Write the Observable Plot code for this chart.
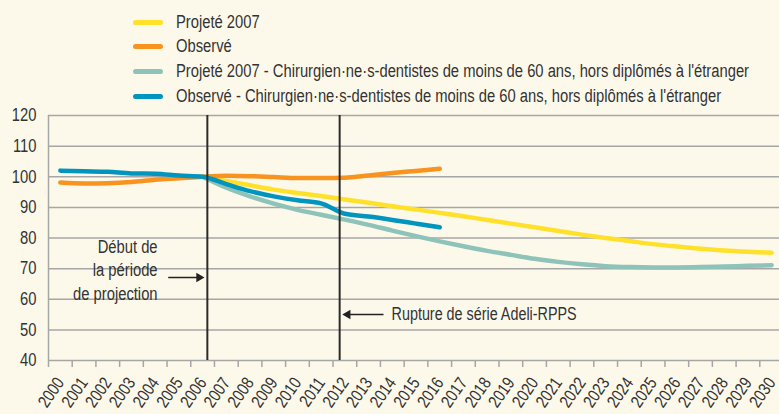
<!DOCTYPE html>
<html>
<head>
<meta charset="utf-8">
<script src="https://cdn.jsdelivr.net/npm/d3@7"></script>
<script src="https://cdn.jsdelivr.net/npm/@observablehq/plot@0.6"></script>
<style>
  html, body { margin: 0; padding: 0; background: #fdf9ea; overflow: hidden; width: 779px; height: 414px; }
  body { font-family: "Liberation Sans", Arial, sans-serif; color: #333; }
  #legend { position: relative; height: 105px; }
  .item { position: absolute; left: 133px; height: 20px; display: flex; align-items: center; font-size: 18px; white-space: nowrap; }
  .sw { width: 30px; height: 5px; border-radius: 2.5px; margin-right: 13px; flex: none; }
  .tx { display: inline-block; transform: scaleX(0.82); transform-origin: 0 50%; }
</style>
</head>
<body>
<div id="legend"></div>
<div id="chart"></div>
<script>
// ---- data ----
const yearsObs = [2000, 2001, 2002, 2003, 2004, 2005, 2006, 2007, 2008, 2009, 2010, 2011, 2012, 2013, 2014, 2015, 2016];
const yearsProj = [2006, 2007, 2008, 2009, 2010, 2011, 2012, 2013, 2014, 2015, 2016, 2017, 2018, 2019, 2020, 2021, 2022, 2023, 2024, 2025, 2026, 2027, 2028, 2029, 2030];

const projete2007 = [100, 98.6, 97.2, 95.8, 94.7, 93.7, 92.6, 91.5, 90.4, 89.3, 88.2, 87.1, 85.9, 84.7, 83.5, 82.3, 81.1, 80.0, 79.0, 78.0, 77.2, 76.5, 75.9, 75.5, 75.2];
const observe = [98.1, 97.8, 97.9, 98.3, 99.0, 99.5, 100, 100.3, 100.2, 99.9, 99.6, 99.6, 99.7, 100.4, 101.2, 101.9, 102.6];
const projete2007CD = [100, 96.4, 93.6, 91.2, 89.2, 87.6, 86.0, 84.3, 82.4, 80.6, 78.9, 77.3, 75.8, 74.5, 73.2, 72.2, 71.4, 70.8, 70.5, 70.4, 70.4, 70.5, 70.7, 70.9, 71.1];
const observeCD = [102.0, 101.8, 101.6, 101.1, 101.0, 100.4, 100, 97.6, 95.3, 93.6, 92.3, 91.3, 87.9, 87.0, 85.9, 84.7, 83.5];

const seriesNames = [
  "Projeté 2007",
  "Observé",
  "Projeté 2007 - Chirurgien·ne·s-dentistes de moins de 60 ans, hors diplômés à l'étranger",
  "Observé - Chirurgien·ne·s-dentistes de moins de 60 ans, hors diplômés à l'étranger"
];
const seriesColors = ["#ffe12b", "#f7931e", "#8ec3b9", "#0095bf"];

const yTicks = [40, 50, 60, 70, 80, 90, 100, 110, 120];
const xTickYears = [2000, 2001, 2002, 2003, 2004, 2005, 2006, 2007, 2008, 2009, 2010, 2011, 2012, 2013, 2014, 2015, 2016, 2017, 2018, 2019, 2020, 2021, 2022, 2023, 2024, 2025, 2026, 2027, 2028, 2029, 2030];
const markerYears = [2006.2, 2011.78];
const noteLeft = [{x: 2004.1, y: 70, text: "Début de\nla période\nde projection"}];
const noteRight = [{x: 2013.97, y: 55, text: "Rupture de série Adeli-RPPS"}];
const arrows = [
  {x1: 2004.55, x2: 2005.85, y: 67.1, dir: 90},
  {x1: 2013.63, x2: 2012.12, y: 55, dir: -90}
];

// ---- legend ----
const legendCenters = [22, 46, 71, 96.5];
const legend = document.getElementById("legend");
seriesNames.forEach((name, i) => {
  const it = document.createElement("div");
  it.className = "item";
  it.style.top = (legendCenters[i] - 10) + "px";
  const sw = document.createElement("span");
  sw.className = "sw";
  sw.style.background = seriesColors[i];
  const tx = document.createElement("span");
  tx.className = "tx";
  tx.textContent = name;
  it.appendChild(sw); it.appendChild(tx);
  legend.appendChild(it);
});

// ---- tables ----
const toRows = (years, vals, s) => years.map((x, i) => ({x, y: vals[i], s}));
const lines = [
  toRows(yearsProj, projete2007CD, 2),
  toRows(yearsProj, projete2007, 0),
  toRows(yearsObs, observe, 1),
  toRows(yearsObs, observeCD, 3)
];

const grey = "#a6a6a6";

const chart = Plot.plot({
  width: 779,
  height: 309,
  marginLeft: 48,
  marginRight: 0,
  marginTop: 10,
  marginBottom: 54,
  style: {background: "transparent", fontFamily: '"Liberation Sans", Arial, sans-serif', color: "#333", overflow: "visible"},
  x: {domain: [1999.5, 2030.5], range: [48, 783], label: null},
  y: {domain: [40, 120], label: null},
  marks: [
    Plot.ruleY(yTicks, {stroke: grey, strokeWidth: 1.5}),
    Plot.ruleX([1999.5], {y1: 40, y2: 120, stroke: grey, strokeWidth: 1.5}),
    Plot.axisX({ticks: xTickYears.map(d => d - 0.5).concat([2030.5]), tickSize: 7, tickFormat: () => "", stroke: grey, strokeWidth: 1.5, label: null}),
    Plot.axisX({ticks: xTickYears, tickSize: 0, tickRotate: -55, tickPadding: 19, tickFormat: d => String(d), fontSize: 17.5, fill: "#333", label: null}),
    Plot.axisY({ticks: yTicks, tickSize: 0, tickPadding: 12, fontSize: 18, fill: "#333", tickFormat: d => String(d), label: null}),
    ...lines.map(rows => Plot.line(rows, {x: "x", y: "y", stroke: seriesColors[rows[0].s], strokeWidth: 4.5, curve: "monotone-x", strokeLinecap: "round"})),
    Plot.ruleX(markerYears, {stroke: "#2b2b2b", strokeWidth: 2}),
    Plot.text(noteLeft, {x: "x", y: "y", text: "text", textAnchor: "end", fontSize: 18, lineHeight: 1.3, fill: "#333"}),
    Plot.text(noteRight, {x: "x", y: "y", text: "text", textAnchor: "start", fontSize: 17.5, fill: "#333"}),
    Plot.link(arrows, {x1: "x1", x2: "x2", y1: "y", y2: "y", stroke: "#222", strokeWidth: 1.5}),
    Plot.dot(arrows, {x: "x2", y: "y", symbol: "triangle", rotate: "dir", r: 3.5, fill: "#222", stroke: "none"})
  ]
});
document.getElementById("chart").appendChild(chart);

// condense SVG texts horizontally (narrow font look)
chart.querySelectorAll("text").forEach(t => {
  const spans = t.querySelectorAll("tspan");
  const targets = spans.length ? Array.from(spans) : [t];
  targets.forEach(el => {
    if (!el.textContent) return;
    const L = el.getComputedTextLength();
    if (L > 0) {
      el.setAttribute("textLength", (L * 0.82).toFixed(2));
      el.setAttribute("lengthAdjust", "spacingAndGlyphs");
    }
  });
});
</script>
</body>
</html>
